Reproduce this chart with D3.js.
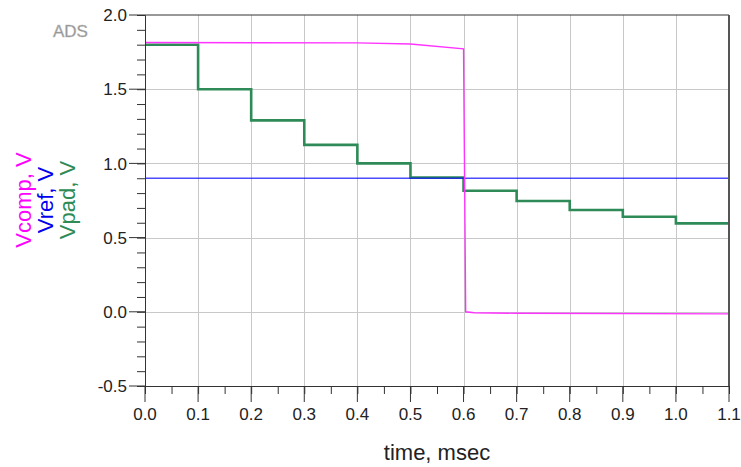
<!DOCTYPE html>
<html>
<head>
<meta charset="utf-8">
<script src="https://cdn.jsdelivr.net/npm/d3@7"></script>
<style>
  body { margin: 0; background: #fff; }
  svg { font-family: "Liberation Sans", Arial, sans-serif; }
  .grid line { stroke: #c8c8c8; stroke-width: 1; }
  .axis path, .axis line { stroke: #333; }
  .axis text { fill: #222; font-size: 17px; }
</style>
</head>
<body>
<svg id="chart" width="741" height="467"></svg>
<script>
// Data
var xTicks = [0.0, 0.1, 0.2, 0.3, 0.4, 0.5, 0.6, 0.7, 0.8, 0.9, 1.0, 1.1];
var yTicks = [-0.5, 0.0, 0.5, 1.0, 1.5, 2.0];

// Vpad: staircase, one level per 0.1 msec
var vpadTimes  = [0.0, 0.1, 0.2, 0.3, 0.4, 0.5, 0.6, 0.7, 0.8, 0.9, 1.0, 1.1];
var vpadLevels = [1.80, 1.50, 1.29, 1.125, 1.00, 0.905, 0.816, 0.747, 0.686, 0.641, 0.596, 0.596];

// Vcomp: high until comparator trips at ~0.6 msec
var vcompTimes  = [0.0, 0.4, 0.5, 0.6, 0.604, 0.62, 0.7, 1.1];
var vcompValues = [1.815, 1.812, 1.805, 1.772, 0.0, -0.006, -0.01, -0.014];

// Vref: constant reference
var vrefTimes  = [0.0, 1.1];
var vrefValues = [0.9, 0.9];

var vars = {
  width: 741,
  height: 467,
  margin: {top: 15, right: 12, bottom: 81, left: 145}
};

var svg = d3.select("#chart");
var innerW = 729 - vars.margin.left;
var innerH = 386 - vars.margin.top;

var x = d3.scaleLinear().domain([0, 1.1]).range([vars.margin.left, vars.margin.left + innerW]);
var y = d3.scaleLinear().domain([-0.5, 2.0]).range([vars.margin.top + innerH, vars.margin.top]);

// plain hyphen minus like the original
function fmt(d) { return d3.format(".1f")(d).replace("\u2212", "-"); }

// grid
var grid = svg.append("g").attr("class", "grid");
grid.selectAll(".gx").data(xTicks.slice(1, -1)).enter().append("line")
    .attr("x1", function(d) { return Math.round(x(d)) + 0.5; })
    .attr("x2", function(d) { return Math.round(x(d)) + 0.5; })
    .attr("y1", y(2.0)).attr("y2", y(-0.5));
grid.selectAll(".gy").data(yTicks.slice(1, -1)).enter().append("line")
    .attr("y1", function(d) { return Math.round(y(d)) + 0.5; })
    .attr("y2", function(d) { return Math.round(y(d)) + 0.5; })
    .attr("x1", x(0)).attr("x2", x(1.1));

// series
var line = d3.line()
    .x(function(d) { return x(d[0]); })
    .y(function(d) { return y(d[1]); });

var stepLine = d3.line()
    .x(function(d) { return x(d[0]); })
    .y(function(d) { return y(d[1]); })
    .curve(d3.curveStepAfter);

svg.append("path")
    .datum(vpadTimes.map(function(t, i) { return [t, vpadLevels[i]]; }))
    .attr("d", stepLine)
    .attr("fill", "none")
    .attr("stroke", "#2e8b57")
    .attr("stroke-width", 2.6);

svg.append("path")
    .datum(vrefTimes.map(function(t, i) { return [t, vrefValues[i]]; }))
    .attr("d", line)
    .attr("fill", "none")
    .attr("stroke", "#0000ff")
    .attr("stroke-opacity", 0.7)
    .attr("stroke-width", 1.4);

svg.append("path")
    .datum(vcompTimes.map(function(t, i) { return [t, vcompValues[i]]; }))
    .attr("d", line)
    .attr("fill", "none")
    .attr("stroke", "#ff33ff")
    .attr("stroke-width", 1.4);

// frame (top and right)
svg.append("line")
    .attr("x1", x(0)).attr("x2", x(1.1))
    .attr("y1", y(2.0)).attr("y2", y(2.0))
    .attr("stroke", "#333");
svg.append("line")
    .attr("x1", x(1.1)).attr("x2", x(1.1))
    .attr("y1", y(2.0)).attr("y2", y(-0.5))
    .attr("stroke", "#555").attr("stroke-width", 2);

// y axis: minor ticks every 0.1, major every 0.5
var yAxis = svg.append("g").attr("class", "axis")
    .attr("transform", "translate(" + x(0) + ",0)");
yAxis.call(d3.axisLeft(y).tickValues(d3.range(-5, 21).map(function(d) { return d / 10; }))
    .tickSize(8).tickFormat(""));
yAxis.call(function(g) {
  g.selectAll(".maj").data(yTicks).enter().append("line")
      .attr("x1", 0).attr("x2", -16)
      .attr("y1", function(d) { return y(d); })
      .attr("y2", function(d) { return y(d); });
  g.selectAll(".lab").data(yTicks).enter().append("text")
      .attr("x", -18)
      .attr("y", function(d) { return y(d); })
      .attr("dy", "0.36em")
      .attr("text-anchor", "end")
      .text(fmt);
});

// x axis: minor ticks every 0.05, major every 0.1
var xAxis = svg.append("g").attr("class", "axis")
    .attr("transform", "translate(0," + y(-0.5) + ")");
xAxis.call(d3.axisBottom(x).tickValues(d3.range(0, 23).map(function(d) { return d * 0.05; }))
    .tickSize(8).tickFormat(""));
xAxis.call(function(g) {
  g.selectAll(".maj").data(xTicks).enter().append("line")
      .attr("y1", 0).attr("y2", 16)
      .attr("x1", function(d) { return x(d); })
      .attr("x2", function(d) { return x(d); });
  g.selectAll(".lab").data(xTicks).enter().append("text")
      .attr("x", function(d) { return x(d); })
      .attr("y", 34)
      .attr("text-anchor", "middle")
      .text(fmt);
});

// titles
svg.append("text")
    .attr("x", (x(0) + x(1.1)) / 2)
    .attr("y", 460)
    .attr("text-anchor", "middle")
    .attr("font-size", 22)
    .attr("fill", "#222")
    .text("time, msec");

var yTitles = [
  {text: "Vcomp, V", color: "#ff00ff"},
  {text: "Vref, V", color: "#0000ee"},
  {text: "Vpad, V", color: "#2e8b57"}
];
svg.selectAll(".ytitle").data(yTitles).enter().append("text")
    .attr("transform", function(d, i) { return "translate(" + (31 + i * 22) + ",200) rotate(-90)"; })
    .attr("text-anchor", "middle")
    .attr("font-size", 22)
    .attr("fill", function(d) { return d.color; })
    .text(function(d) { return d.text; });

svg.append("text")
    .attr("x", 53)
    .attr("y", 37)
    .attr("font-size", 17)
    .attr("fill", "#8c8c8c")
    .attr("stroke", "#c0c0c0")
    .attr("stroke-width", 0.5)
    .text("ADS");
</script>
</body>
</html>
